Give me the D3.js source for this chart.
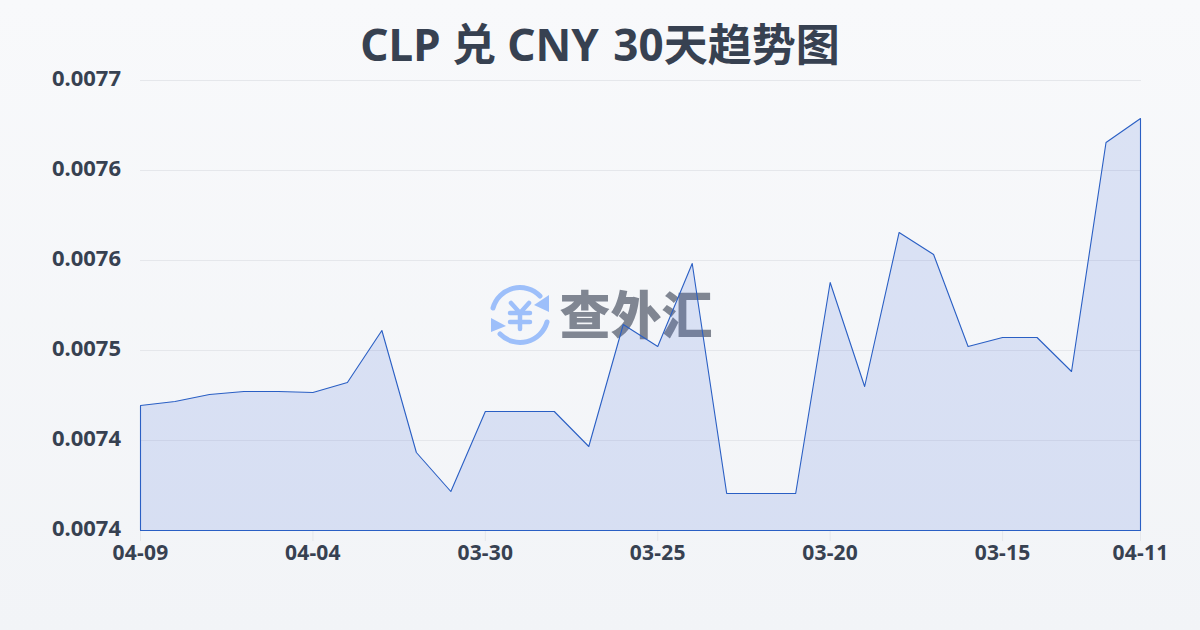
<!DOCTYPE html>
<html><head><meta charset="utf-8">
<script src="https://cdnjs.cloudflare.com/ajax/libs/d3/7.8.5/d3.min.js"></script>
<style>html,body{margin:0;padding:0;width:1200px;height:630px;overflow:hidden}svg{display:block}text{font-family:"Noto Sans","Noto Sans CJK SC",sans-serif}</style>
</head><body><svg id="c" width="1200" height="630"></svg>
<script>
const titleParts = ["CLP 兑 CNY ", "30天趋势图"];
const dates = ["04-09","04-08","04-07","04-06","04-05","04-04","04-03","04-02","04-01","03-31","03-30","03-29","03-28","03-27","03-26","03-25","03-24","03-23","03-22","03-21","03-20","03-19","03-18","03-17","03-16","03-15","03-14","03-13","03-12","04-11"];
const rates = [0.00746333,0.00746600,0.00747067,0.00747267,0.00747267,0.00747200,0.00747867,0.00751333,0.00743200,0.00740600,0.00745933,0.00745933,0.00745933,0.00743600,0.00751733,0.00750267,0.00755800,0.00740467,0.00740467,0.00740467,0.00754533,0.00747600,0.00757867,0.00756400,0.00750267,0.00750867,0.00750867,0.00748600,0.00763867,0.00765467];
const yTicks = [0.00738,0.00744,0.0075,0.00756,0.00762,0.00768];
const xTickDates = ["04-09","04-04","03-30","03-25","03-20","03-15","04-11"];
const svg = d3.select("#c");
const defs = svg.append("defs");
const g = defs.append("linearGradient").attr("id","bg").attr("x1",0).attr("y1",0).attr("x2",0).attr("y2",1);
g.append("stop").attr("offset","0").attr("stop-color","#f8f9fb");
g.append("stop").attr("offset","1").attr("stop-color","#f2f4f7");
svg.append("rect").attr("width",1200).attr("height",630).attr("fill","url(#bg)");
const x = d3.scalePoint().domain(dates).range([140.5,1140.5]);
const y = d3.scaleLinear().domain([0.00738,0.00768]).range([530.5,80.5]);
const ink = "#374151";
const t = svg.append("text").attr("x",600).attr("y",61).attr("text-anchor","middle").attr("font-size",44).attr("font-weight",700).attr("fill","#374151").attr("xml:space","preserve");
t.append("tspan").text(titleParts[0]);
t.append("tspan").attr("dx",3).text(titleParts[1]);
// grid
svg.append("g").selectAll("line").data(yTicks).join("line").attr("x1",140).attr("x2",1141).attr("y1",d=>y(d)).attr("y2",d=>y(d)).attr("stroke","#e5e7eb").attr("stroke-width",1);
// y labels
svg.append("g").selectAll("text").data(yTicks).join("text").attr("x",121).attr("y",d=>y(d)+5.5).attr("text-anchor","end").attr("font-size",22).attr("font-weight",700).attr("fill",ink).text(d=>d.toFixed(4));
// x ticks
const xa = svg.append("g");
xa.selectAll("line").data(xTickDates).join("line").attr("x1",d=>x(d)).attr("x2",d=>x(d)).attr("y1",530).attr("y2",541).attr("stroke","#e5e7eb");
xa.selectAll("text").data(xTickDates).join("text").attr("x",d=>x(d)).attr("y",560).attr("text-anchor","middle").attr("font-size",21).attr("letter-spacing",0.2).attr("font-weight",700).attr("fill",ink).text(d=>d);
// watermark
const wm = svg.append("g");
const logoBlue = "#9dbffa";
const ic = wm.append("g").attr("transform","translate(520,315)").attr("fill","none").attr("stroke",logoBlue).attr("stroke-width",5).attr("stroke-linecap","round");
ic.append("path").attr("d","M-27,-7 A28,28 0 0 1 20,-19");
ic.append("path").attr("d","M27,7 A28,28 0 0 1 -20,19");
ic.append("path").attr("d","M29,-20 L29,-3 L14,-10 Z").attr("fill",logoBlue).attr("stroke","none");
ic.append("path").attr("d","M-29,3 L-29,17 L-14,11 Z").attr("fill",logoBlue).attr("stroke","none");
ic.append("path").attr("d","M-9,-12 L0,-2 L9,-12 M-10,-2 H10 M-10,7 H10 M0,-2 V14").attr("stroke-width",4.5);
wm.append("text").attr("x",636).attr("y",334).attr("text-anchor","middle").attr("font-size",51).attr("font-weight",900).attr("fill","#6b7280").attr("fill-opacity",0.85).style("font-family","'Noto Sans CJK SC'").text("查外汇");
// area
const area = d3.area().x((d,i)=>x(dates[i])).y0(y(0.00738)).y1(d=>y(d));
svg.append("path").datum(rates).attr("d",area).attr("fill","#3a66d8").attr("fill-opacity",0.15).attr("stroke","#2a5fc4").attr("stroke-width",1.1).attr("stroke-linejoin","round");
</script></body></html>
